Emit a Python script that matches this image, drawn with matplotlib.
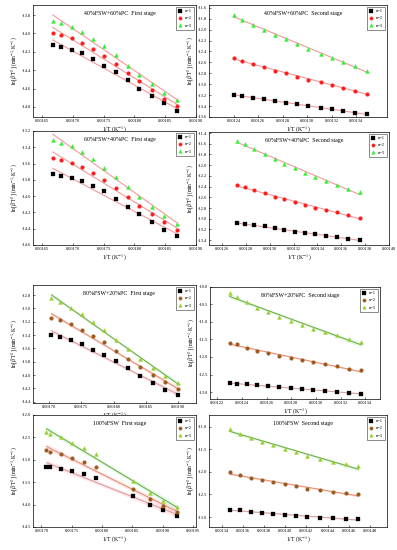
import numpy as np
import matplotlib
matplotlib.use("Agg")
import matplotlib.pyplot as plt
from matplotlib.ticker import FormatStrFormatter

plt.rcParams['font.family'] = ['Liberation Serif', 'DejaVu Serif']
plt.rcParams['mathtext.fontset'] = 'stix'

# ---------------- data ----------------
x_p1 = [0.001667, 0.001681, 0.001698, 0.001715, 0.001733, 0.001751, 0.001770, 0.001789, 0.001808, 0.001828, 0.001848, 0.001869]
p1_n1 = [-14.13, -14.15, -14.18, -14.215, -14.28, -14.35, -14.42, -14.51, -14.60, -14.68, -14.76, -14.84]
p1_n2 = [-14.00, -14.02, -14.05, -14.10, -14.17, -14.25, -14.33, -14.43, -14.52, -14.62, -14.71, -14.79]
p1_n3 = [-13.86, -13.89, -13.93, -13.98, -14.06, -14.14, -14.24, -14.35, -14.45, -14.55, -14.65, -14.73]

x_p2 = [0.001240, 0.001247, 0.001256, 0.001265, 0.001274, 0.001283, 0.001292, 0.001301, 0.001311, 0.001320, 0.001329, 0.001339, 0.001349]
p2_n1 = [-13.19, -13.22, -13.25, -13.27, -13.30, -13.34, -13.37, -13.40, -13.43, -13.46, -13.49, -13.52, -13.55]
p2_n2 = [-12.52, -12.57, -12.63, -12.69, -12.75, -12.80, -12.86, -12.92, -12.96, -13.01, -13.07, -13.12, -13.17]
p2_n3 = [-11.73, -11.82, -11.91, -12.00, -12.09, -12.18, -12.27, -12.35, -12.44, -12.52, -12.60, -12.67, -12.75]

x_p3 = [0.001667, 0.001681, 0.001698, 0.001715, 0.001733, 0.001751, 0.001770, 0.001789, 0.001808, 0.001828, 0.001848, 0.001869]
p3_n1 = [-13.73, -13.75, -13.78, -13.82, -13.87, -13.94, -14.03, -14.13, -14.22, -14.32, -14.41, -14.49]
p3_n2 = [-13.53, -13.56, -13.59, -13.64, -13.71, -13.80, -13.90, -14.01, -14.12, -14.22, -14.32, -14.41]
p3_n3 = [-13.315, -13.35, -13.39, -13.46, -13.54, -13.65, -13.76, -13.89, -14.01, -14.13, -14.24, -14.34]

x_p4 = [0.0012729, 0.0012792, 0.0012866, 0.0012956, 0.0013044, 0.0013121, 0.0013208, 0.0013293, 0.0013381, 0.0013471, 0.0013564, 0.0013655, 0.0013756]
p4_n1 = [-13.08, -13.10, -13.12, -13.14, -13.18, -13.21, -13.24, -13.27, -13.29, -13.32, -13.34, -13.38, -13.39]
p4_n2 = [-12.37, -12.41, -12.47, -12.52, -12.59, -12.64, -12.69, -12.74, -12.79, -12.84, -12.88, -12.93, -12.98]
p4_n3 = [-11.54, -11.60, -11.70, -11.80, -11.89, -11.97, -12.06, -12.14, -12.22, -12.29, -12.37, -12.44, -12.50]

x_p5 = [0.0017036, 0.0017165, 0.0017335, 0.0017505, 0.0017680, 0.0017856, 0.0018031, 0.0018222, 0.0018418, 0.0018608, 0.0018804, 0.0018995]
p5_n1 = [-13.40, -13.43, -13.47, -13.53, -13.62, -13.70, -13.79, -13.90, -14.01, -14.12, -14.22, -14.30]
p5_n2 = [-13.14, -13.18, -13.24, -13.32, -13.41, -13.51, -13.64, -13.76, -13.88, -14.00, -14.11, -14.21]
p5_n3 = [-12.85, -12.90, -12.99, -13.08, -13.20, -13.33, -13.47, -13.61, -13.76, -13.89, -14.01, -14.12]

x_p6 = [0.0012300, 0.0012357, 0.0012438, 0.0012524, 0.0012614, 0.0012700, 0.0012795, 0.0012884, 0.0012978, 0.0013073, 0.0013168, 0.0013268, 0.0013368]
p6_n1 = [-12.73, -12.76, -12.78, -12.81, -12.84, -12.87, -12.89, -12.92, -12.94, -12.97, -12.99, -13.02, -13.05]
p6_n2 = [-11.59, -11.64, -11.73, -11.82, -11.88, -11.96, -12.03, -12.10, -12.15, -12.21, -12.27, -12.33, -12.38]
p6_n3 = [-10.17, -10.29, -10.44, -10.59, -10.72, -10.85, -10.97, -11.09, -11.19, -11.29, -11.38, -11.48, -11.57]

x_p7 = [0.0017082, 0.0017148, 0.0017329, 0.0017510, 0.0017696, 0.0017893, 0.0018507, 0.0018792, 0.0019000, 0.0019230]
p7_n1 = [-13.15, -13.16, -13.20, -13.25, -13.32, -13.41, -13.80, -14.00, -14.13, -14.25]
p7_n2 = [-12.78, -12.82, -12.87, -12.95, -13.04, -13.15, -13.65, -13.88, -14.03, -14.17]
p7_n3 = [-12.39, -12.42, -12.50, -12.62, -12.73, -12.87, -13.47, -13.73, -13.91, -14.06]

x_p8 = [0.0013478, 0.0013575, 0.0013681, 0.0013778, 0.0013888, 0.0013994, 0.0014103, 0.0014206, 0.0014325, 0.0014450, 0.0014569, 0.0014690]
p8_n1 = [-12.84, -12.85, -12.88, -12.90, -12.93, -12.95, -12.97, -12.99, -13.01, -13.03, -13.04, -13.04]
p8_n2 = [-12.01, -12.07, -12.13, -12.18, -12.23, -12.26, -12.32, -12.37, -12.41, -12.44, -12.47, -12.49]
p8_n3 = [-11.04, -11.15, -11.24, -11.33, -11.40, -11.49, -11.57, -11.64, -11.72, -11.79, -11.83, -11.87]

titles = ["40%FSW+60%PC  First stage", "40%FSW+60%PC  Second stage",
          "60%FSW+40%PC  First stage", "60%FSW+40%PC  Second stage",
          "80%FSW+20%PC  First stage", "80%FSW+20%PC  Second stage",
          "100%FSW  First stage", "100%FSW  Second stage"]
series_labels = ["n=1", "n=2", "n=3"]

xt_p1 = [0.00165, 0.00170, 0.00175, 0.00180, 0.00185, 0.00190]
yt_p1 = [-14.8, -14.6, -14.4, -14.2, -14.0, -13.8]
xt_p2 = [0.00124, 0.00126, 0.00128, 0.00130, 0.00132, 0.00134]
yt_p2 = [-13.6, -13.4, -13.2, -13.0, -12.8, -12.6, -12.4, -12.2, -12.0, -11.8, -11.6]
xt_p3 = [0.00165, 0.00170, 0.00175, 0.00180, 0.00185, 0.00190]
yt_p3 = [-14.6, -14.4, -14.2, -14.0, -13.8, -13.6, -13.4, -13.2]
xt_p4 = [0.00126, 0.00128, 0.00130, 0.00132, 0.00134, 0.00136, 0.00138, 0.00140]
yt_p4 = [-13.4, -13.2, -13.0, -12.8, -12.6, -12.4, -12.2, -12.0, -11.8, -11.6, -11.4]
xt_p5 = [0.00170, 0.00175, 0.00180, 0.00185, 0.00190]
yt_p5 = [-14.4, -14.2, -14.0, -13.8, -13.6, -13.4, -13.2, -13.0, -12.8]
xt_p6 = [0.00122, 0.00124, 0.00126, 0.00128, 0.00130, 0.00132, 0.00134]
yt_p6 = [-13.0, -12.5, -12.0, -11.5, -11.0, -10.5, -10.0]
xt_p7 = [0.00170, 0.00175, 0.00180, 0.00185, 0.00190, 0.00195]
yt_p7 = [-14.5, -14.0, -13.5, -13.0, -12.5, -12.0]
xt_p8 = [0.00134, 0.00136, 0.00138, 0.00140, 0.00142, 0.00144, 0.00146, 0.00148]
yt_p8 = [-13.0, -12.5, -12.0, -11.5, -11.0]

# ---------------- layout ----------------
W, H = 397, 550
fig = plt.figure(figsize=(W / 100, H / 100), dpi=100)


def px_axes(l, t, r, b):
    return fig.add_axes([l / W, 1 - b / H, (r - l) / W, (b - t) / H])


panels = [
    dict(rect=(33, 5, 196, 117), x=x_p1, ys=(p1_n1, p1_n2, p1_n3), xl=(0.001635, 0.00190), yl=(-14.91, -13.69),
         xt=xt_p1, yt=yt_p1, style='top'),
    dict(rect=(209, 5, 387, 117), x=x_p2, ys=(p2_n1, p2_n2, p2_n3), xl=(0.00122, 0.001365), yl=(-13.6, -11.55),
         xt=xt_p2, yt=yt_p2, style='top'),
    dict(rect=(33, 131, 196, 245), x=x_p3, ys=(p3_n1, p3_n2, p3_n3), xl=(0.001635, 0.00190), yl=(-14.6, -13.2),
         xt=xt_p3, yt=yt_p3, style='top'),
    dict(rect=(209, 132, 389, 245), x=x_p4, ys=(p4_n1, p4_n2, p4_n3), xl=(0.001249, 0.00140), yl=(-13.49, -11.38),
         xt=xt_p4, yt=yt_p4, style='top'),
    dict(rect=(33, 285, 196, 403), x=x_p5, ys=(p5_n1, p5_n2, p5_n3), xl=(0.001675, 0.001928), yl=(-14.42, -12.65),
         xt=xt_p5, yt=yt_p5, style='bottom'),
    dict(rect=(210, 287, 380, 399), x=x_p6, ys=(p6_n1, p6_n2, p6_n3), xl=(0.001214, 0.001352), yl=(-13.2, -10.0),
         xt=xt_p6, yt=yt_p6, style='bottom'),
    dict(rect=(33, 415, 196, 527), x=x_p7, ys=(p7_n1, p7_n2, p7_n3), xl=(0.001686, 0.001955), yl=(-14.5, -12.0),
         xt=xt_p7, yt=yt_p7, style='bottom'),
    dict(rect=(209, 415, 387, 527), x=x_p8, ys=(p8_n1, p8_n2, p8_n3), xl=(0.001328, 0.001496), yl=(-13.22, -10.74),
         xt=xt_p8, yt=yt_p8, style='bottom'),
]

top_colors = ['black', '#ff1a1a', '#33ee33']
top_line = ['#f29a9a', '#f29a9a', '#f29a9a']
bot_colors = ['black', '#9a5a1e', '#9acd32']
bot_line = ['#d9a0a0', '#e89070', '#70b040']
bot_band = ['#ffc0cb', '#ffc0cb', '#b8f0d0']
markers = ['s', 'o', '^']
msizes = [2.5, 2.7, 2.9]

FS = 3.2

for i, p in enumerate(panels):
    ax = px_axes(*p['rect'])
    x = np.array(p['x'])
    for j, y in enumerate(p['ys']):
        y = np.array(y)
        k, b0 = np.polyfit(x, y, 1)
        xx = np.linspace(x.min(), x.max(), 50)
        yy = k * xx + b0
        if p['style'] == 'top':
            c, lc = top_colors[j], top_line[j]
        else:
            c, lc = bot_colors[j], bot_line[j]
            n = len(x)
            res = y - (k * x + b0)
            s = np.sqrt(np.sum(res ** 2) / (n - 2))
            sxx = np.sum((x - x.mean()) ** 2)
            se = s * np.sqrt(1 / n + (xx - x.mean()) ** 2 / sxx)
            ax.fill_between(xx, yy - 2.2 * se, yy + 2.2 * se, color=bot_band[j], alpha=0.35, lw=0, zorder=1)
        ax.plot(xx, yy, color=lc, lw=0.8, zorder=2)
        ax.plot(x, y, linestyle='none', marker=markers[j], ms=msizes[j], color=c, mec=c, mew=0.2,
                label=series_labels[j], zorder=3)
    ax.set_xlim(*p['xl'])
    ax.set_ylim(*p['yl'])
    ax.set_xticks(p['xt'])
    ax.set_yticks(p['yt'])
    ax.xaxis.set_major_formatter(FormatStrFormatter('%.5f'))
    ax.yaxis.set_major_formatter(FormatStrFormatter('%.1f'))
    ax.tick_params(direction='in', length=1.5, width=0.4, labelsize=FS, pad=1.2)
    for sp in ax.spines.values():
        sp.set_linewidth(0.5)
    ax.set_xlabel(r'1/T (K$^{-1}$)', fontsize=4.2, labelpad=1.0)
    ax.set_ylabel(r'ln[$\beta$/T$^2$] (min$^{-1}$$\cdot$K$^{-1}$)', fontsize=4.0, labelpad=1.5)
    ax.text(0.53, 0.925, titles[i], transform=ax.transAxes, ha='center', va='center', fontsize=4.2)
    leg = ax.legend(loc='upper right', fontsize=FS, frameon=True, fancybox=False, edgecolor='black',
                    borderpad=0.5, handlelength=1.0, handletextpad=0.6, labelspacing=0.7,
                    borderaxespad=0.4, markerscale=0.9)
    leg.get_frame().set_linewidth(0.4)

fig.savefig('out.png', dpi=100)
